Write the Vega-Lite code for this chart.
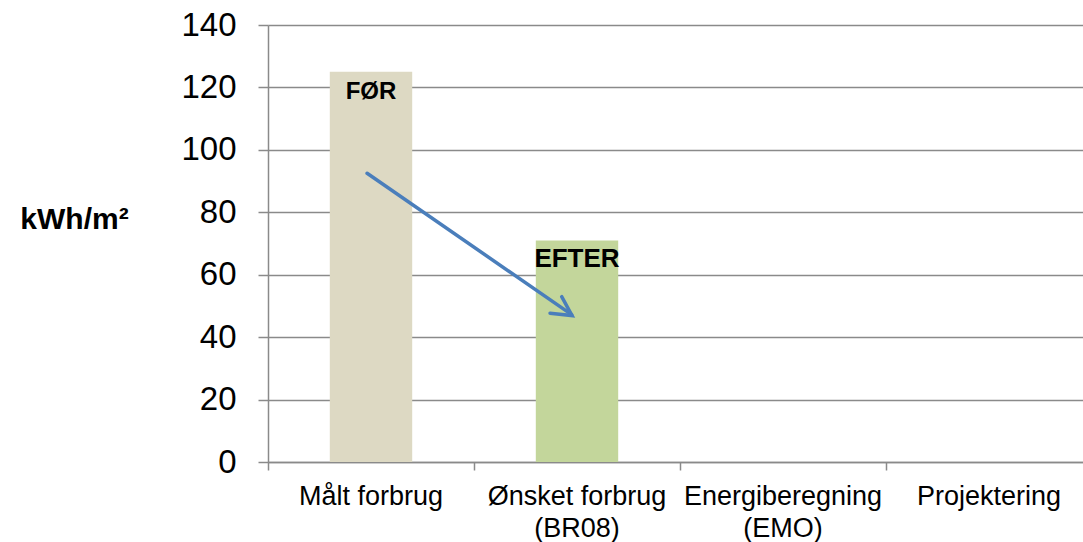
{
  "$schema": "https://vega.github.io/schema/vega-lite/v6.json",
  "autosize": {"type": "none"},
  "padding": {"left": 268, "top": 25, "right": 0, "bottom": 80},
  "width": 824,
  "height": 437,
  "background": "white",
  "config": {
    "font": "Liberation Sans",
    "view": {"stroke": null}
  },
  "datasets": {
    "forbrug": [
      {"kategori": "Målt forbrug", "kwh": 125, "etiket": "FØR"},
      {"kategori": "Ønsket forbrug (BR08)", "kwh": 71, "etiket": "EFTER"},
      {"kategori": "Energiberegning (EMO)", "kwh": null, "etiket": ""},
      {"kategori": "Projektering", "kwh": null, "etiket": ""}
    ],
    "pil": [
      {"del": "skaft", "rk": 0, "bx": 0.481, "kwh": 92.5},
      {"del": "skaft", "rk": 1, "bx": 1.474, "kwh": 47.2},
      {"del": "hoved", "rk": 0, "bx": 1.4257, "kwh": 52.96},
      {"del": "hoved", "rk": 1, "bx": 1.476, "kwh": 46.9},
      {"del": "hoved", "rk": 2, "bx": 1.369, "kwh": 47.64}
    ]
  },
  "layer": [
    {
      "data": {"name": "forbrug"},
      "encoding": {
        "x": {
          "field": "kategori",
          "type": "nominal",
          "sort": null,
          "scale": {
            "domain": ["Målt forbrug", "Ønsket forbrug (BR08)", "Energiberegning (EMO)", "Projektering"],
            "paddingInner": 0.6,
            "paddingOuter": 0.3
          },
          "axis": {
            "title": null,
            "labelAngle": 0,
            "labelFontSize": 27,
            "labelColor": "#000000",
            "labelLineHeight": 32,
            "labelPadding": 13,
            "labelLimit": 400,
            "labelOverlap": false,
            "labelExpr": "split(replace(datum.label, ' (', '|('), '|')",
            "domainColor": "#8a8a8a",
            "domainWidth": 1.5,
            "tickColor": "#8a8a8a",
            "tickWidth": 1.5,
            "tickSize": 8,
            "bandPosition": -0.75,
            "grid": false
          }
        },
        "y": {
          "field": "kwh",
          "type": "quantitative",
          "scale": {"domain": [0, 140], "nice": false},
          "axis": {
            "values": [0, 20, 40, 60, 80, 100, 120, 140],
            "title": "kWh/m²",
            "titleAngle": 0,
            "titleX": -194,
            "titleY": 203,
            "titleAlign": "center",
            "titleBaseline": "alphabetic",
            "titleFontSize": 30,
            "titleFontWeight": "bold",
            "titleColor": "#000000",
            "labelFontSize": 33,
            "labelColor": "#000000",
            "labelPadding": 22,
            "tickSize": 10,
            "tickColor": "#8a8a8a",
            "tickWidth": 1.5,
            "domainColor": "#8a8a8a",
            "domainWidth": 1.5,
            "grid": true,
            "gridColor": "#8a8a8a",
            "gridWidth": 1.5
          }
        }
      },
      "layer": [
        {
          "mark": {"type": "bar"},
          "encoding": {
            "color": {
              "field": "kategori",
              "type": "nominal",
              "scale": {
                "domain": ["Målt forbrug", "Ønsket forbrug (BR08)", "Energiberegning (EMO)", "Projektering"],
                "range": ["#DDD9C3", "#C3D69B", "#C0504D", "#8064A2"]
              },
              "legend": null
            }
          }
        },
        {
          "transform": [{"filter": "datum.etiket != ''"}],
          "mark": {"type": "text", "fontWeight": "bold", "color": "#000000", "baseline": "alphabetic", "align": "center", "dy": 27},
          "encoding": {
            "text": {"field": "etiket"},
            "size": {"condition": {"test": "datum.etiket == 'EFTER'", "value": 26}, "value": 24}
          }
        }
      ]
    },
    {
      "data": {"name": "pil"},
      "mark": {"type": "line", "color": "#4A7EBB", "strokeWidth": 3.5, "strokeCap": "round", "strokeJoin": "miter"},
      "encoding": {
        "x": {"field": "bx", "type": "quantitative", "scale": {"domain": [0, 4], "nice": false, "zero": false}, "axis": null},
        "y": {"field": "kwh", "type": "quantitative"},
        "detail": {"field": "del"},
        "order": {"field": "rk"}
      }
    }
  ],
  "resolve": {"scale": {"x": "independent"}}
}
